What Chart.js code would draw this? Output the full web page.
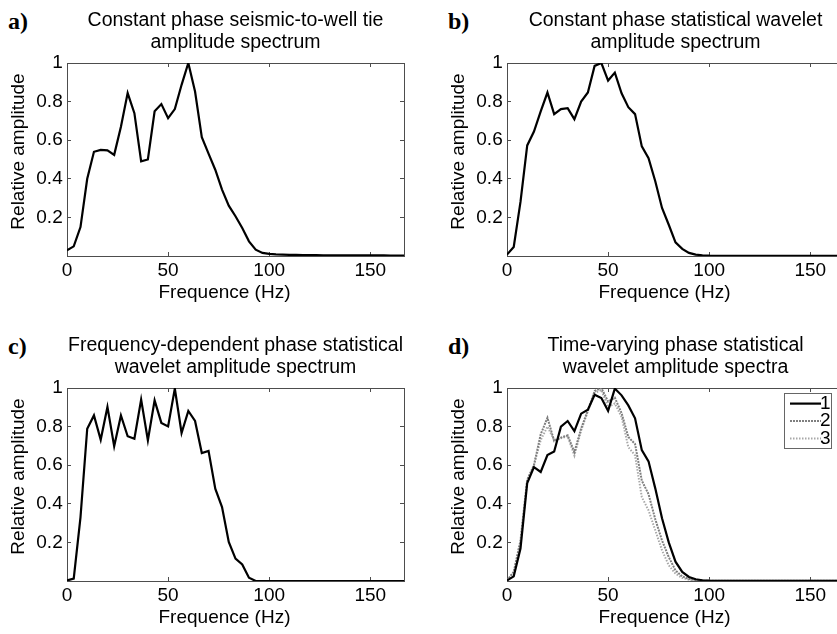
<!DOCTYPE html>
<html>
<head>
<meta charset="utf-8">
<script src="https://cdn.jsdelivr.net/npm/chart.js@4"></script>
<style>
  html, body { margin: 0; padding: 0; background: #fff; }
  body { width: 837px; height: 634px; overflow: hidden; position: relative; }
  canvas { position: absolute; }
  .tag { position: absolute; font: bold 24px "Liberation Serif", "Times New Roman", serif; line-height: 24px; color: #000; }
</style>
</head>
<body>
<div class="tag" style="left:8px;top:9px">a)</div>
<div class="tag" style="left:448px;top:9px">b)</div>
<div class="tag" style="left:8px;top:334px">c)</div>
<div class="tag" style="left:448px;top:334px">d)</div>
<canvas id="panelA" width="420" height="310" style="left:0;top:0"></canvas>
<canvas id="panelB" width="420" height="310" style="left:440px;top:0"></canvas>
<canvas id="panelC" width="420" height="310" style="left:0;top:325px"></canvas>
<canvas id="panelD" width="420" height="310" style="left:440px;top:325px"></canvas>
<script>
// frequency samples (Hz)
const freqHz = [0, 3.33, 6.67, 10, 13.33, 16.67, 20, 23.33, 26.67, 30,
  33.33, 36.67, 40, 43.33, 46.67, 50, 53.33, 56.67, 60, 63.33,
  66.67, 70, 73.33, 76.67, 80, 83.33, 86.67, 90, 93.33, 96.67,
  100, 103.33, 106.67, 110, 113.33, 116.67, 120, 123.33, 126.67, 130,
  133.33, 136.67, 140, 143.33, 146.67, 150, 153.33, 156.67, 160, 163.33, 166.67];

// a) constant phase seismic-to-well tie
const ampTie = [0.03, 0.05, 0.15, 0.40, 0.54, 0.55, 0.547, 0.524, 0.67, 0.844,
  0.74, 0.49, 0.50, 0.75, 0.787, 0.714, 0.761, 0.887, 1.0, 0.852,
  0.616, 0.53, 0.447, 0.344, 0.261, 0.206, 0.145, 0.076, 0.033, 0.016,
  0.011, 0.008, 0.007, 0.006, 0.006, 0.005, 0.005, 0.005, 0.004, 0.004,
  0.004, 0.004, 0.003, 0.003, 0.003, 0.003, 0.003, 0.003, 0.002, 0.002, 0.002];

// b) constant phase statistical wavelet
const ampConst = [0.007, 0.047, 0.28, 0.573, 0.645, 0.749, 0.847, 0.735, 0.761, 0.766,
  0.709, 0.80, 0.847, 0.985, 1.0, 0.909, 0.95, 0.843, 0.771, 0.735,
  0.568, 0.507, 0.387, 0.249, 0.162, 0.071, 0.037, 0.016, 0.007, 0.004,
  0.002, 0.001, 0.001, 0.001, 0.001, 0.001, 0.001, 0.001, 0.001, 0.001,
  0.001, 0.001, 0.001, 0.001, 0.001, 0.001, 0.001, 0.001, 0.001, 0.001, 0.001];

// c) frequency-dependent phase statistical wavelet
const ampFreqDep = [0.003, 0.012, 0.33, 0.789, 0.858, 0.732, 0.902, 0.698, 0.858, 0.75,
  0.737, 0.94, 0.729, 0.936, 0.819, 0.801, 0.997, 0.767, 0.881, 0.829,
  0.663, 0.674, 0.478, 0.383, 0.202, 0.116, 0.086, 0.017, 0, 0,
  0, 0, 0, 0, 0, 0, 0, 0, 0, 0,
  0, 0, 0, 0, 0, 0, 0, 0, 0, 0, 0];

// d) time-varying phase, windows 1..3
const ampWin1 = [0.003, 0.024, 0.168, 0.508, 0.59, 0.565, 0.653, 0.671, 0.80, 0.829,
  0.777, 0.867, 0.888, 0.965, 0.948, 0.882, 0.997, 0.962, 0.91, 0.843,
  0.678, 0.62, 0.48, 0.325, 0.20, 0.10, 0.047, 0.021, 0.009, 0.004,
  0.002, 0.001, 0.001, 0.001, 0.001, 0.001, 0.001, 0.001, 0.001, 0.001,
  0.001, 0.001, 0.001, 0.001, 0.001, 0.001, 0.001, 0.001, 0.001, 0.001, 0.001];
const ampWin2 = [0.003, 0.047, 0.21, 0.525, 0.60, 0.76, 0.846, 0.725, 0.743, 0.755,
  0.668, 0.79, 0.884, 0.984, 1.0, 0.93, 0.95, 0.87, 0.746, 0.71,
  0.52, 0.45, 0.32, 0.21, 0.124, 0.055, 0.024, 0.01, 0.004, 0.002,
  0.001, 0.001, 0.001, 0.001, 0.001, 0.001, 0.001, 0.001, 0.001, 0.001,
  0.001, 0.001, 0.001, 0.001, 0.001, 0.001, 0.001, 0.001, 0.001, 0.001, 0.001];
const ampWin3 = [0.003, 0.045, 0.20, 0.52, 0.60, 0.73, 0.80, 0.73, 0.74, 0.75,
  0.65, 0.78, 0.88, 0.974, 0.99, 0.90, 0.92, 0.85, 0.694, 0.651,
  0.435, 0.366, 0.263, 0.159, 0.081, 0.038, 0.016, 0.007, 0.003, 0.002,
  0.001, 0.001, 0.001, 0.001, 0.001, 0.001, 0.001, 0.001, 0.001, 0.001,
  0.001, 0.001, 0.001, 0.001, 0.001, 0.001, 0.001, 0.001, 0.001, 0.001, 0.001];

const xTicks = [0, 50, 100, 150];
const yTicks = [0.2, 0.4, 0.6, 0.8, 1];
const windowLabels = ['1', '2', '3'];
const xTitle = 'Frequence (Hz)';
const yTitle = 'Relative amplitude';

const FONT = '"Liberation Sans", Arial, Helvetica, sans-serif';
const BOX = '#4d4d4d';
const X_MAX = 166.67;

function toPoints(values) {
  return freqHz.map((f, i) => ({ x: f, y: values[i] }));
}

function curve(label, values, color, dash, width) {
  return {
    label,
    data: toPoints(values),
    borderColor: color,
    borderWidth: width || 2.2,
    borderDash: dash || [],
    pointRadius: 0,
    tension: 0,
    fill: false
  };
}

// inward tick marks on the top/right sides so the axes form a closed box
function frameAxis(position, min, max, tickValues) {
  const horizontal = position === 'top' || position === 'bottom';
  return {
    type: 'linear',
    position,
    min,
    max,
    afterBuildTicks: (s) => { s.ticks = tickValues.map(v => ({ value: v })); },
    afterFit: (s) => { if (horizontal) s.height = 0; else s.width = 0; },
    ticks: { display: false },
    grid: { drawOnChartArea: false, tickLength: -4, color: BOX, lineWidth: 1 },
    border: { color: BOX, width: 1 }
  };
}

// axis titles sit a little off the plot centre, so they are placed by hand
const axisTitles = {
  id: 'axisTitles',
  afterDraw(chart) {
    const { ctx, chartArea } = chart;
    ctx.save();
    ctx.fillStyle = '#000';
    ctx.font = '19px ' + FONT;
    ctx.textAlign = 'center';
    ctx.textBaseline = 'middle';
    ctx.fillText(xTitle, (chartArea.left + chartArea.right) / 2 - 11, chartArea.bottom + 36.5);
    ctx.translate(18.5, (chartArea.top + chartArea.bottom) / 2 - 8);
    ctx.rotate(-Math.PI / 2);
    ctx.fillText(yTitle, 0, 0);
    ctx.restore();
  }
};

const cornerLegend = {
  id: 'cornerLegend',
  afterDraw(chart) {
    const { ctx, chartArea } = chart;
    const left = chartArea.right - 60;
    const top = chartArea.top + 5;
    ctx.save();
    ctx.fillStyle = '#fff';
    ctx.fillRect(left, top, 47, 55);
    ctx.strokeStyle = '#666';
    ctx.lineWidth = 1;
    ctx.strokeRect(left + 0.5, top + 0.5, 47, 55);
    chart.data.datasets.forEach((ds, i) => {
      const y = top + 10.6 + i * 17.5;
      ctx.strokeStyle = ds.borderColor;
      ctx.lineWidth = ds.borderWidth;
      ctx.setLineDash(ds.borderDash);
      ctx.beginPath();
      ctx.moveTo(left + 6, y);
      ctx.lineTo(left + 37, y);
      ctx.stroke();
      ctx.setLineDash([]);
      ctx.fillStyle = '#000';
      ctx.font = '19px ' + FONT;
      ctx.textBaseline = 'middle';
      ctx.fillText(ds.label, left + 36, y);
    });
    ctx.restore();
  }
};

function makePanel(id, title, datasets, extra) {
  const tickFont = { family: FONT, size: 19 };
  return new Chart(document.getElementById(id), {
    type: 'line',
    data: { datasets },
    plugins: [axisTitles].concat(extra || []),
    options: {
      responsive: false,
      animation: false,
      events: [],
      layout: { padding: { left: 0, right: 16, top: 0, bottom: 0 } },
      plugins: {
        legend: { display: false },
        tooltip: { enabled: false },
        title: {
          display: true,
          text: title,
          fullSize: false,
          color: '#000',
          font: { family: FONT, size: 19.5, weight: 'normal', lineHeight: 1.1 },
          padding: { top: 10.3, bottom: 9.8 }
        }
      },
      scales: {
        x: {
          type: 'linear',
          position: 'bottom',
          min: 0,
          max: X_MAX,
          afterBuildTicks: (s) => { s.ticks = xTicks.map(v => ({ value: v })); },
          afterFit: (s) => { s.height = 54; },
          ticks: { color: '#000', font: tickFont, padding: 7.5, maxRotation: 0, callback: (v) => String(v) },
          grid: { drawOnChartArea: false, tickLength: -4, color: BOX },
          border: { color: BOX, width: 1 }
        },
        y: {
          type: 'linear',
          position: 'left',
          min: 0,
          max: 1,
          afterBuildTicks: (s) => { s.ticks = yTicks.map(v => ({ value: v })); },
          afterFit: (s) => { s.width = 67; },
          ticks: { color: '#000', font: tickFont, padding: 8.3, callback: (v) => String(v) },
          grid: { drawOnChartArea: false, tickLength: -4, color: BOX },
          border: { color: BOX, width: 1 }
        },
        x2: frameAxis('top', 0, X_MAX, xTicks),
        y2: frameAxis('right', 0, 1, yTicks)
      }
    }
  });
}

makePanel('panelA', ['Constant phase seismic-to-well tie', 'amplitude spectrum'],
  [curve('tie', ampTie, '#000')]);
makePanel('panelB', ['Constant phase statistical wavelet', 'amplitude spectrum'],
  [curve('constant', ampConst, '#000')]);
makePanel('panelC', ['Frequency-dependent phase statistical', 'wavelet amplitude spectrum'],
  [curve('freq-dependent', ampFreqDep, '#000')]);
makePanel('panelD', ['Time-varying phase statistical', 'wavelet amplitude spectra'],
  [
    curve(windowLabels[0], ampWin1, '#000'),
    curve(windowLabels[1], ampWin2, '#7f7f7f', [2, 1], 2),
    curve(windowLabels[2], ampWin3, '#a8a8a8', [1.5, 1.5], 2)
  ],
  [cornerLegend]);
</script>
</body>
</html>
